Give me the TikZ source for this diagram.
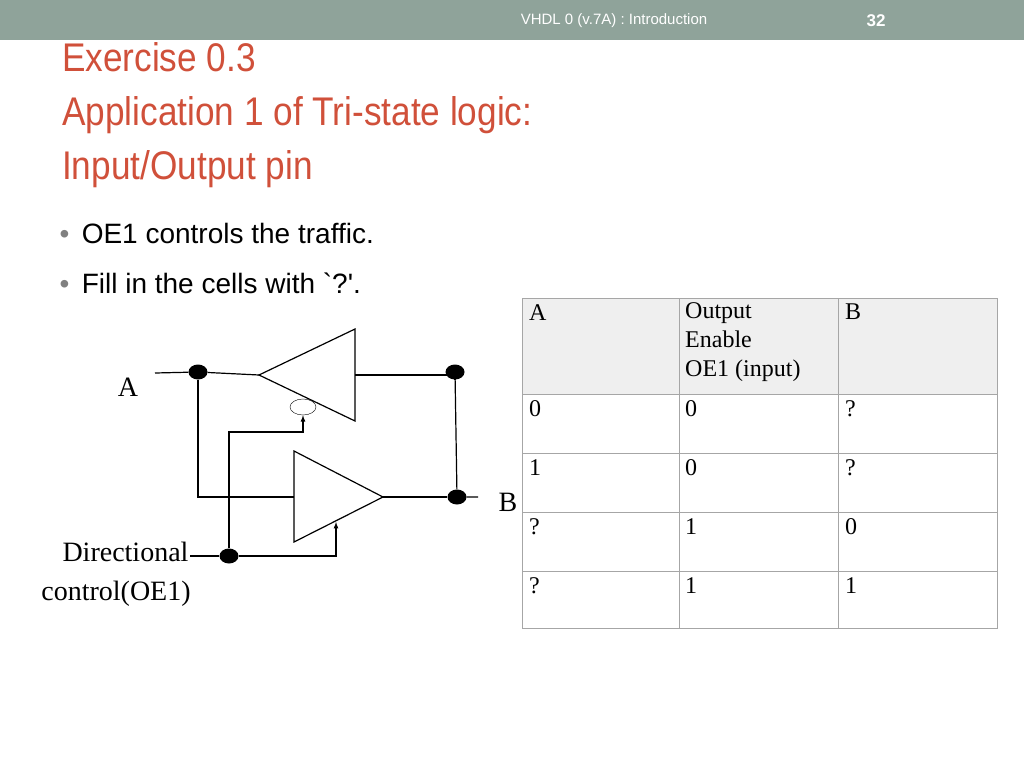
\documentclass[tikz,border=0pt]{standalone}
\usepackage{fontspec}
\setmainfont{Liberation Serif}
\newfontfamily\slidefont{Liberation Sans}
\usetikzlibrary{arrows,shapes.geometric}
\definecolor{barcol}{RGB}{143, 163, 154}
\definecolor{titlecol}{RGB}{208, 80, 58}
\definecolor{headcol}{RGB}{239, 239, 239}

\begin{document}
\begin{tikzpicture}[x=1pt,y=-1pt,
dotnode/.style={ellipse, minimum width=19pt, minimum height=15pt, inner sep=0pt, fill=black},
lbl/.style={font=\fontsize{28}{30}\selectfont},
cell/.style={anchor=north west, align=left, inner sep=0pt, font=\fontsize{24}{29}\selectfont},
wire/.style={line width=1.2pt},
]
\useasboundingbox (0,0) rectangle (1024,768);
%Header
\fill[barcol] (0,0) rectangle (1024,40);
\node[text=white, font=\slidefont\fontsize{15}{18}\selectfont] (hdr) at (614,21) {VHDL 0 (v.7A) : Introduction};
\node[text=white, font=\slidefont\bfseries\fontsize{17}{20}\selectfont] (pg) at (876,21) {32};
\node[anchor=north west, align=left, text=titlecol, inner sep=0pt,
  font=\slidefont\fontsize{40}{54}\selectfont] (title) at (62,42)
  {\scalebox{0.88}[1]{Exercise 0.3}\\\scalebox{0.88}[1]{Application 1 of Tri-state logic:}\\\scalebox{0.88}[1]{Input/Output pin}};
\node[anchor=west, font=\slidefont\fontsize{28}{30}\selectfont] (b1) at (56,233) {{\color{gray}\textbullet}\, OE1 controls the traffic.};
\node[anchor=west, font=\slidefont\fontsize{28}{30}\selectfont] (b2) at (56,283) {{\color{gray}\textbullet}\, Fill in the cells with `?'.};

%Circuit nodes
\node[dotnode] (dA)  at (198,372) {};
\node[dotnode] (dT)  at (455,372) {};
\node[dotnode] (dB)  at (457,497) {};
\node[dotnode] (dC)  at (229,556) {};
\node[draw, ellipse, minimum width=26pt, minimum height=16pt, inner sep=0pt] (bub) at (303,407) {};
\coordinate (inA) at (155,373);
\coordinate (outB) at (478,497);
\coordinate (inC) at (190,556);
\node[lbl] (la) at (128,387) {A};
\node[lbl] (lb) at (508,502) {B};
\node[lbl, anchor=east] (ld) at (192,552) {Directional};
\node[lbl] (lc) at (116,594) {control(OE1)};

%Buffers
\draw[wire] (259,375) -- (355,329) -- (355,421) -- cycle;
\draw[wire] (383,497) -- (294,451) -- (294,542) -- cycle;

%Wires
\draw[wire] (inA) -- (dA) -- (259,375);
\draw[wire] (355,375) -| (dT);
\draw[wire] (dT) -- (dB) -- (outB);
\draw[wire] (dA) |- (294,497);
\draw[wire] (383,497) -- (dB);
\draw[wire] (inC) -- (dC);
\draw[wire,-latex] (dC) -| (336,522);
\draw[wire,-latex] (dC) |- (303,432) -- (bub.south);

%Table
\fill[headcol] (522,298) rectangle (997,394);
\draw[gray!70] (522,298) rectangle (997,628);
\foreach \y in {394,453,512,571} \draw[gray!70] (522,\y) -- (997,\y);
\foreach \x in {679,838} \draw[gray!70] (\x,298) -- (\x,628);
\node[cell] (hA) at (529,304) {A};
\node[cell] (hO) at (685,302) {Output\\Enable\\OE1 (input)};
\node[cell] (hB) at (845,304) {B};
\node[cell] (r1a) at (529,400) {0}; \node[cell] (r1o) at (685,400) {0}; \node[cell] (r1b) at (845,400) {?};
\node[cell] (r2a) at (529,459) {1}; \node[cell] (r2o) at (685,459) {0}; \node[cell] (r2b) at (845,459) {?};
\node[cell] (r3a) at (529,518) {?}; \node[cell] (r3o) at (685,518) {1}; \node[cell] (r3b) at (845,518) {0};
\node[cell] (r4a) at (529,577) {?}; \node[cell] (r4o) at (685,577) {1}; \node[cell] (r4b) at (845,577) {1};
\end{tikzpicture}
\end{document}
